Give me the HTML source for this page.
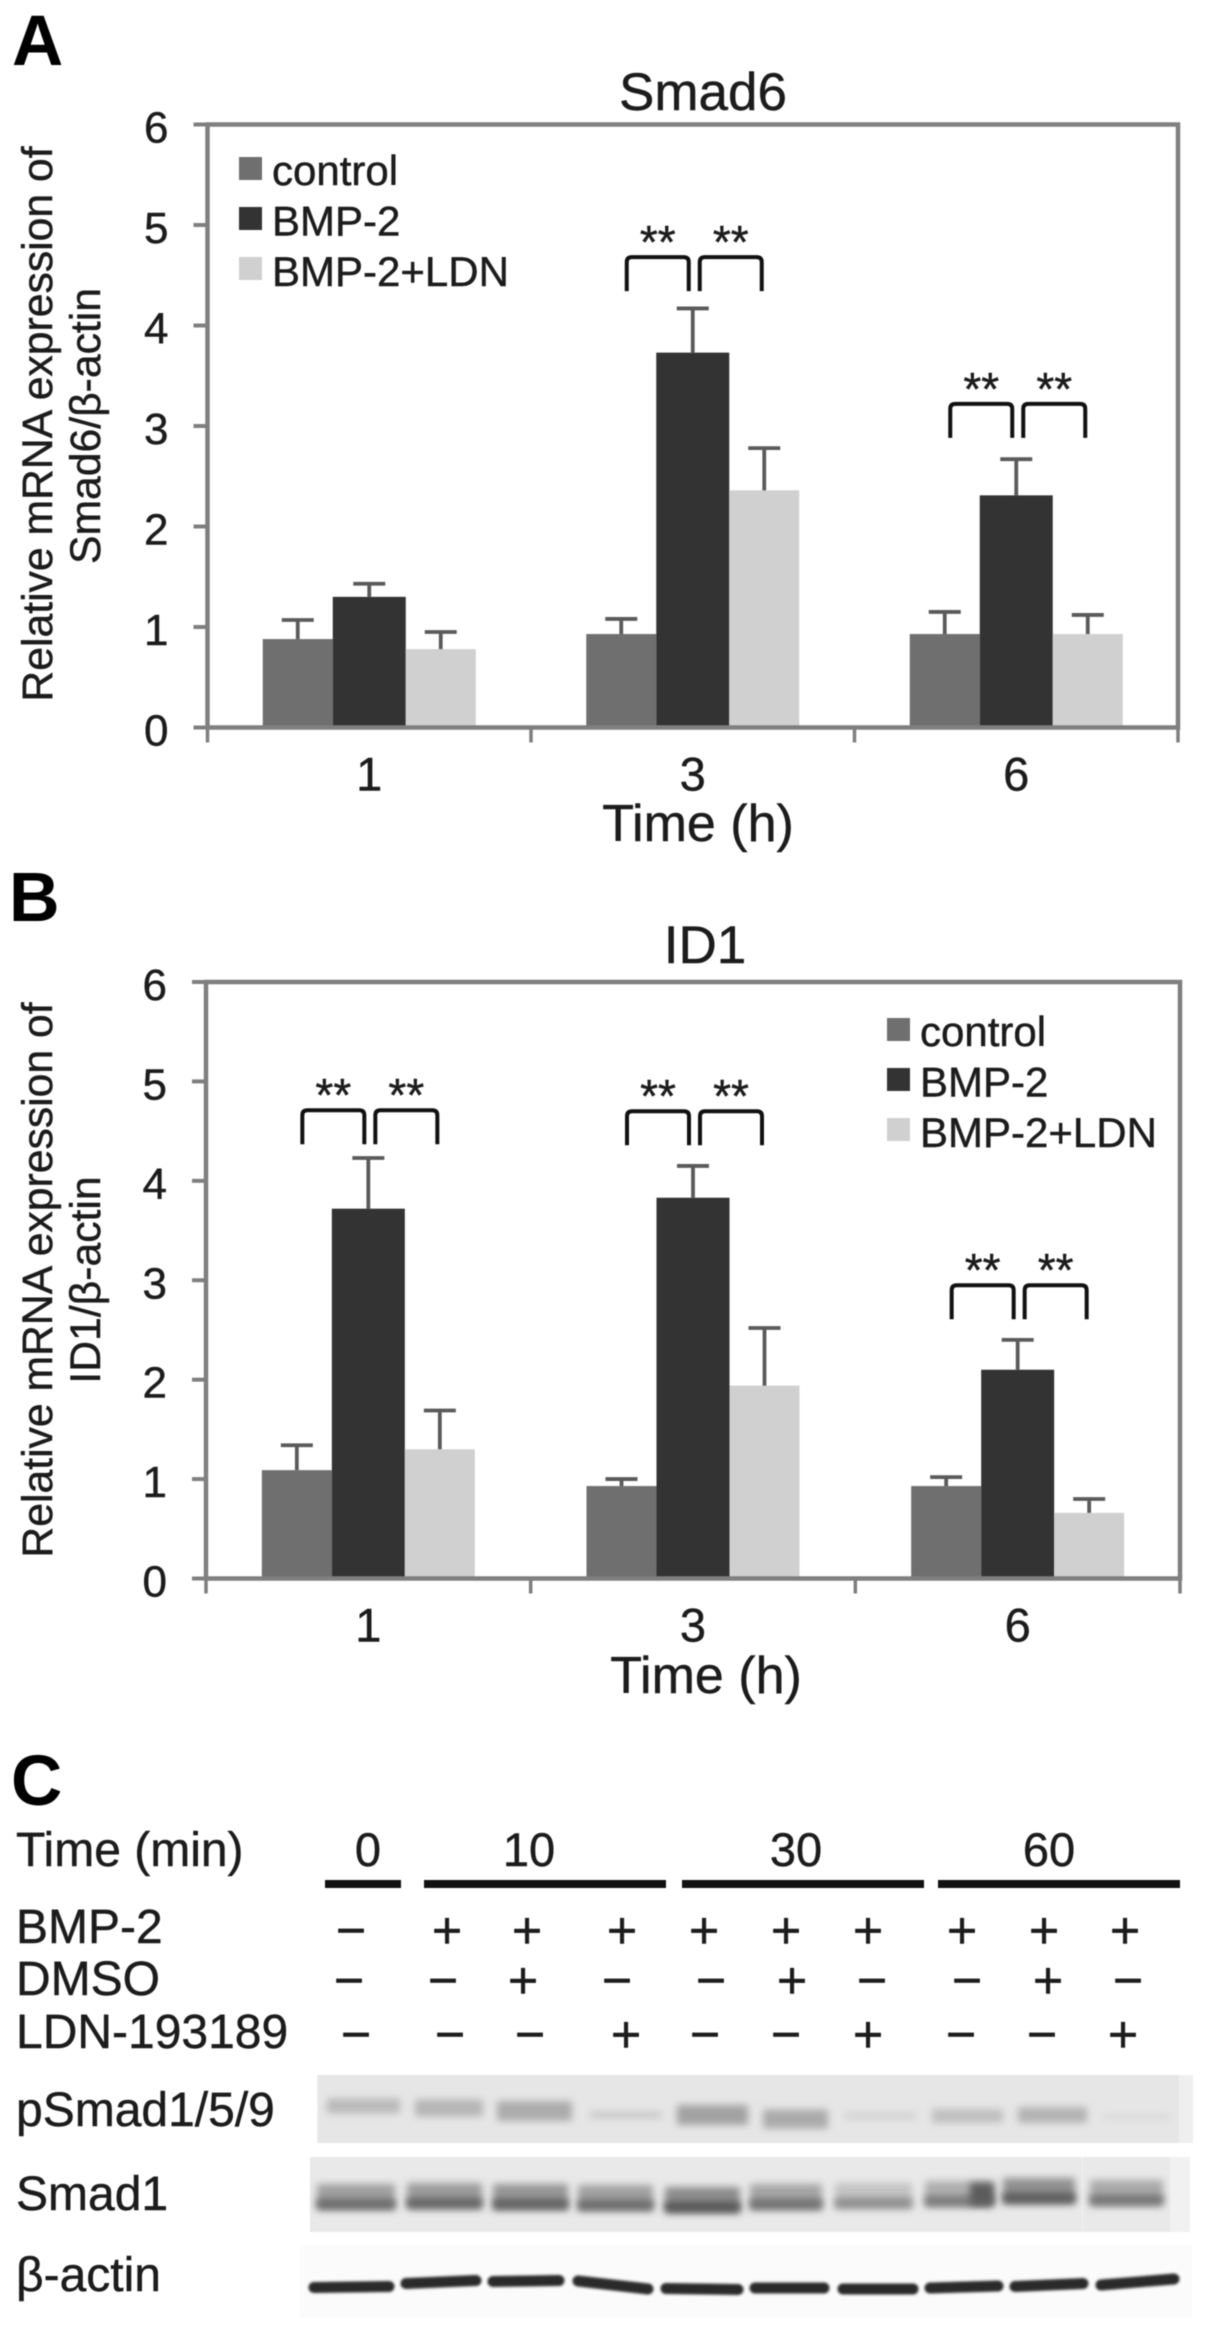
<!DOCTYPE html>
<html lang="en">
<head>
<meta charset="utf-8">
<title>Smad6 and ID1 expression with western blot</title>
<style>
html,body{margin:0;padding:0;background:#fff;}
svg{display:block;filter:blur(0.6px);}
text{font-family:"Liberation Sans","Noto Sans CJK SC",sans-serif;fill:#1c1c1c;stroke:#1c1c1c;stroke-width:.45px;}
</style>
</head>
<body>
<svg id="figure" xmlns="http://www.w3.org/2000/svg" width="1205" height="2329" viewBox="0 0 1205 2329">
  <defs>
    <filter id="soft" filterUnits="userSpaceOnUse" x="300" y="2060" width="905" height="269"><feGaussianBlur stdDeviation="3.6"/></filter>
    <filter id="softer" filterUnits="userSpaceOnUse" x="300" y="2060" width="905" height="269"><feGaussianBlur stdDeviation="1.3"/></filter>
  </defs>
  <rect width="1205" height="2329" fill="#fff"/>

  <text x="12" y="65" font-size="71" font-weight="700" style="fill:#000;stroke:none">A</text>
  <text x="9" y="921" font-size="70" font-weight="700" style="fill:#000;stroke:none">B</text>
  <text x="11" y="1805" font-size="71" font-weight="700" style="fill:#000;stroke:none">C</text>

  <g id="chart-a">
    <text x="703" y="110" font-size="53" text-anchor="middle">Smad6</text>
    <text transform="translate(52,424) rotate(-90)" font-size="42.7" text-anchor="middle">Relative mRNA expression of</text>
    <text transform="translate(100,426) rotate(-90)" font-size="42.7" text-anchor="middle">Smad6/β-actin</text>
    <text x="698" y="841" font-size="52" text-anchor="middle">Time (h)</text>
  </g>

  <g id="chart-b">
    <text x="705" y="963" font-size="53" text-anchor="middle">ID1</text>
    <text transform="translate(52,1280) rotate(-90)" font-size="42.7" text-anchor="middle">Relative mRNA expression of</text>
    <text transform="translate(100,1280) rotate(-90)" font-size="42.7" text-anchor="middle">ID1/β-actin</text>
    <text x="706" y="1693" font-size="52" text-anchor="middle">Time (h)</text>
  </g>

  <g id="blot">
    <text x="16" y="1866" font-size="48">Time (min)</text>
    <text x="368" y="1866" font-size="47" text-anchor="middle">0</text>
    <text x="529" y="1866" font-size="47" text-anchor="middle">10</text>
    <text x="796" y="1866" font-size="47" text-anchor="middle">30</text>
    <text x="1049" y="1866" font-size="47" text-anchor="middle">60</text>
    <rect x="325" y="1880" width="76" height="8" fill="#111"/>
    <rect x="424" y="1880" width="242" height="8" fill="#111"/>
    <rect x="682" y="1880" width="242" height="8" fill="#111"/>
    <rect x="938" y="1880" width="242" height="8" fill="#111"/>

    <text x="16" y="1943" font-size="48">BMP-2</text>
    <text x="16" y="1995" font-size="48">DMSO</text>
    <text x="16" y="2048" font-size="48">LDN-193189</text>
    <text x="16" y="2126" font-size="48">pSmad1/5/9</text>
    <text x="16" y="2210" font-size="48">Smad1</text>
    <text x="16" y="2291" font-size="48">β-actin</text>

    <g font-size="52" text-anchor="middle">
      <text x="351" y="1948">−</text>
      <text x="447" y="1948">+</text>
      <text x="527" y="1948">+</text>
      <text x="622" y="1948">+</text>
      <text x="704" y="1948">+</text>
      <text x="786" y="1948">+</text>
      <text x="868" y="1948">+</text>
      <text x="962" y="1948">+</text>
      <text x="1044" y="1948">+</text>
      <text x="1125" y="1948">+</text>
    </g>
    <g font-size="52" text-anchor="middle">
      <text x="349" y="1998">−</text>
      <text x="443" y="1998">−</text>
      <text x="523" y="1998">+</text>
      <text x="617" y="1998">−</text>
      <text x="711" y="1998">−</text>
      <text x="792" y="1998">+</text>
      <text x="872" y="1998">−</text>
      <text x="967" y="1998">−</text>
      <text x="1048" y="1998">+</text>
      <text x="1128" y="1998">−</text>
    </g>
    <g font-size="52" text-anchor="middle">
      <text x="356" y="2052">−</text>
      <text x="450" y="2052">−</text>
      <text x="530" y="2052">−</text>
      <text x="626" y="2052">+</text>
      <text x="705" y="2052">−</text>
      <text x="786" y="2052">−</text>
      <text x="868" y="2052">+</text>
      <text x="961" y="2052">−</text>
      <text x="1042" y="2052">−</text>
      <text x="1123" y="2052">+</text>
    </g>

    <rect x="317" y="2075" width="876" height="68" fill="#efefef"/>
    <rect x="312" y="2157" width="878" height="75" fill="#f1f1f1"/>
    <rect x="300" y="2245" width="892" height="73" fill="#fbfbfb"/>
    <g id="blot-bands"></g>
  </g>
</svg>

<script>
// Shared chart values
const timeCategories = ["1", "3", "6"];
const yTickValues = [0, 1, 2, 3, 4, 5, 6];
const seriesNames = ["control", "BMP-2", "BMP-2+LDN"];
const seriesColors = ["#6f6f6f", "#333333", "#d0d0d0"];

// Panel A: Smad6
const smad6Control = [0.88, 0.93, 0.93];
const smad6Bmp2 = [1.30, 3.73, 2.31];
const smad6Ldn = [0.78, 2.36, 0.93];
const smad6ControlErr = [0.19, 0.15, 0.22];
const smad6Bmp2Err = [0.13, 0.44, 0.36];
const smad6LdnErr = [0.17, 0.42, 0.19];
const smad6BracketLevels = [null, 4.68, 3.22];

// Panel B: ID1
const id1Control = [1.09, 0.93, 0.93];
const id1Bmp2 = [3.72, 3.83, 2.10];
const id1Ldn = [1.30, 1.94, 0.66];
const id1ControlErr = [0.25, 0.07, 0.09];
const id1Bmp2Err = [0.51, 0.32, 0.30];
const id1LdnErr = [0.39, 0.58, 0.14];
const id1BracketLevels = [4.71, 4.70, 2.95];

const NS = "http://www.w3.org/2000/svg";
function mk(parent, tag, attrs, txt) {
  const el = document.createElementNS(NS, tag);
  for (const k in attrs) el.setAttribute(k, attrs[k]);
  if (txt !== undefined) el.textContent = txt;
  parent.appendChild(el);
  return el;
}

function drawChart(root, cfg) {
  const yScale = v => cfg.bottom - (v / 6) * (cfg.bottom - cfg.top);
  const step = (cfg.right - cfg.left) / timeCategories.length;
  const xCenter = i => cfg.left + step * (i + 0.5);
  const axis = "#7f7f7f";
  const barW = [70, 73, 70];
  const barOffset = [-71.5, 0, 71.5];

  cfg.series.forEach((vals, s) => {
    vals.forEach((v, i) => {
      const cx = xCenter(i) + barOffset[s];
      const band = mk(root, "rect", {x: cx - barW[s] / 2, y: yScale(v), width: barW[s], height: cfg.bottom - yScale(v), fill: seriesColors[s]});
      
      
      const top = yScale(v + cfg.errors[s][i]);
      const stem = mk(root, "path", {d: "M" + cx + " " + yScale(v) + "V" + top + "M" + (cx - 16) + " " + top + "H" + (cx + 16), stroke: "#5a5a5a", "stroke-width": 3.8, fill: "none"});
      
      
    });
  });

  const frame = mk(root, "rect", {x: cfg.left, y: cfg.top, width: cfg.right - cfg.left, height: cfg.bottom - cfg.top, fill: "none", stroke: axis, "stroke-width": 4.5});
  
  

  yTickValues.forEach(t => {
    const y = yScale(t);
    const tick = mk(root, "line", {x1: cfg.left - 14, x2: cfg.left, y1: y, y2: y, stroke: axis, "stroke-width": 4});
    
    
    const lab = mk(root, "text", {x: cfg.left - 39, y: y + 18, "font-size": 44, "text-anchor": "end"}, String(t));
    
    
  });

  for (let i = 0; i <= timeCategories.length; i++) {
    const x = cfg.left + step * i;
    const tick = mk(root, "line", {x1: x, x2: x, y1: cfg.bottom, y2: cfg.bottom + 15, stroke: axis, "stroke-width": 3.5});
    
    
  }
  timeCategories.forEach((c, i) => {
    const lab = mk(root, "text", {x: xCenter(i), y: cfg.bottom + 63, "font-size": 47, "text-anchor": "middle"}, c);
    
    
  });

  cfg.brackets.forEach((lvl, i) => {
    if (lvl === null) return;
    const y = yScale(lvl);
    const cx = xCenter(i);
    [[-66, -4], [7, 69]].forEach(seg => {
      const l = cx + seg[0], r = cx + seg[1];
      const br = mk(root, "path", {d: "M" + l + " " + (y + 34) + "V" + (y + 5) + "Q" + l + " " + y + " " + (l + 5) + " " + y + "H" + (r - 5) + "Q" + r + " " + y + " " + r + " " + (y + 5) + "V" + (y + 34), fill: "none", stroke: "#111", "stroke-width": 4});
      
      
      const star = mk(root, "text", {x: (l + r) / 2, y: y + 1, "font-size": 46, "text-anchor": "middle"}, "**");
      
      
    });
  });

  seriesNames.forEach((n, s) => {
    const sw = mk(root, "rect", {x: cfg.legendX, y: cfg.legendY + s * 50, width: 23, height: 23, fill: seriesColors[s]});
    
    
    const lab = mk(root, "text", {x: cfg.legendX + 33, y: cfg.legendY + 28 + s * 50.5, "font-size": 42}, n);
    
    
  });
}

drawChart(document.getElementById("chart-a"), {
  left: 207.5, right: 1178, top: 124.5, bottom: 727.5,
  legendX: 239, legendY: 157,
  series: [smad6Control, smad6Bmp2, smad6Ldn],
  errors: [smad6ControlErr, smad6Bmp2Err, smad6LdnErr],
  brackets: smad6BracketLevels
});
drawChart(document.getElementById("chart-b"), {
  left: 206, right: 1180, top: 982, bottom: 1578.5,
  legendX: 887, legendY: 1018,
  series: [id1Control, id1Bmp2, id1Ldn],
  errors: [id1ControlErr, id1Bmp2Err, id1LdnErr],
  brackets: id1BracketLevels
});

// Western blot band appearance (densitometry-like estimates per lane)
const psmadLanes = [[327,400,2106,15,185],[415,483,2108,17,182],[497,572,2111,20,172],[590,662,2115,7,200],[677,748,2115,20,162],[763,828,2119,19,170],[845,917,2116,8,212],[932,1003,2116,14,192],[1018,1087,2115,16,180],[1103,1170,2117,6,218]];
const smad1Lanes = [[317,395,2198,105],[407,482,2197,100],[493,568,2198,95],[578,653,2199,105],[665,740,2201,85],[750,822,2198,110],[835,912,2197,140],[925,993,2195,120],[1003,1075,2192,90],[1090,1163,2194,115]];
const actinLanes = [[310,393,2287,-1],[402,480,2282,-3],[489,563,2281,-1],[574,652,2285,8],[662,742,2289,1],[751,828,2288,0],[839,917,2289,0],[926,1002,2287,-2],[1011,1087,2285,-3],[1097,1178,2282,-6]];

const bands = document.getElementById("blot-bands");
const g = v => "rgb(" + v + "," + v + "," + v + ")";
psmadLanes.forEach(l => {
  const lane = mk(bands, "rect", {x: l[0] - 9, y: 2075, width: l[1] - l[0] + 18, height: 68, fill: "#e6e6e6"});
  
  
});
psmadLanes.forEach(l => {
  const b = mk(bands, "rect", {x: l[0], y: l[2] - l[3] / 2, width: l[1] - l[0], height: l[3], fill: g(l[4]), filter: "url(#soft)"});
  
  
});
smad1Lanes.forEach(l => {
  const lane = mk(bands, "rect", {x: l[0] - 7, y: 2157, width: l[1] - l[0] + 14, height: 75, fill: "#e9e9e9"});
  
  
});
smad1Lanes.forEach(l => {
  const up = mk(bands, "rect", {x: l[0], y: l[2] - 14, width: l[1] - l[0], height: 26, fill: g(l[3] + 55), filter: "url(#soft)"});
  
  
  const lo = mk(bands, "rect", {x: l[0], y: l[2] + 1, width: l[1] - l[0], height: 10, fill: g(l[3]), filter: "url(#soft)"});
  
  
});
const smad1Blob = mk(bands, "rect", {x: 970, y: 2183, width: 24, height: 22, fill: "#5c5c5c", filter: "url(#soft)"});


actinLanes.forEach(l => {
  const b = mk(bands, "line", {x1: l[0] + 4, x2: l[1] - 4, y1: l[2] - l[3] / 2, y2: l[2] + l[3] / 2, stroke: "#2a2a2a", "stroke-width": 11, "stroke-linecap": "round", filter: "url(#softer)"});
  
  
});
</script>
</body>
</html>
